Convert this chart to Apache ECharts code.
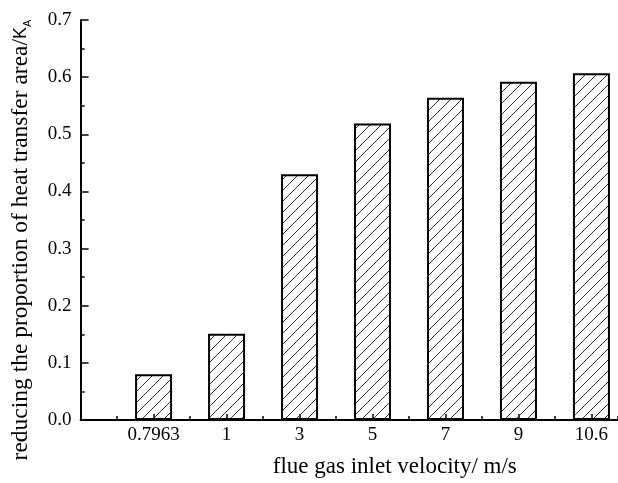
<!DOCTYPE html>
<html>
<head>
<meta charset="utf-8">
<script src="https://cdn.jsdelivr.net/npm/echarts@6/dist/echarts.min.js"></script>
<style>
  html, body { margin: 0; padding: 0; background: #fff; }
  #chart { width: 618px; height: 483px; }
</style>
</head>
<body>
<div id="chart"></div>
<script>
'use strict';

// 烟气入口速度 (x 轴类别) 和换热面积减少比例
var velocities = ['0.7963', '1', '3', '5', '7', '9', '10.6'];
var reduceRatio = [0.080, 0.151, 0.430, 0.519, 0.564, 0.592, 0.607];
var yTicks = [0, 0.1, 0.2, 0.3, 0.4, 0.5, 0.6, 0.7];

var serif = "'Liberation Serif', 'Times New Roman', serif";
var sans = "'Liberation Sans', Arial, sans-serif";
var xMax = 7.364; // 原图右侧被裁掉

// 斜线填充
function hatchPattern() {
  var size = 11;
  var c = document.createElement('canvas');
  c.width = size;
  c.height = size;
  var ctx = c.getContext('2d');
  ctx.strokeStyle = '#333';
  ctx.lineWidth = 1;
  ctx.beginPath();
  ctx.moveTo(-1, size + 1);
  ctx.lineTo(size + 1, -1);
  ctx.moveTo(-1, 1);
  ctx.lineTo(1, -1);
  ctx.moveTo(size - 1, size + 1);
  ctx.lineTo(size + 1, size - 1);
  ctx.stroke();
  return c;
}

var chart = echarts.init(document.getElementById('chart'), null, { renderer: 'canvas' });

var barData = [];
for (var i = 0; i < velocities.length; i++) {
  barData.push([i + 1, reduceRatio[i]]);
}

var option = {
  animation: false,
  backgroundColor: '#fff',
  grid: {
    left: 80.6,
    right: 0,
    top: 20,
    bottom: 57.5
  },
  xAxis: [
    {
      type: 'value',
      min: 0,
      max: xMax,
      interval: 1,
      name: 'flue gas inlet velocity/ m/s',
      nameLocation: 'middle',
      nameGap: 35,
      nameTextStyle: {
        fontFamily: serif,
        fontSize: 23,
        color: '#000',
        padding: [0, 0, 0, 91]
      },
      axisLine: { lineStyle: { color: '#000', width: 2 } },
      axisTick: { inside: true, length: 6, lineStyle: { color: '#000', width: 1.5 } },
      axisLabel: {
        fontFamily: serif,
        fontSize: 19,
        color: '#000',
        margin: 6,
        showMaxLabel: false,
        formatter: function(v) {
          var k = Math.round(v);
          if (Math.abs(v - k) < 1e-6 && k >= 1 && k <= velocities.length) {
            return velocities[k - 1];
          }
          return '';
        }
      },
      splitLine: { show: false }
    },
    {
      // 次刻度
      type: 'value',
      position: 'bottom',
      min: 0,
      max: xMax,
      interval: 0.5,
      axisLine: { show: false },
      axisTick: { show: true, inside: true, length: 4, lineStyle: { color: '#000', width: 1.5 } },
      axisLabel: { show: false },
      splitLine: { show: false }
    }
  ],
  yAxis: {
    type: 'value',
    min: yTicks[0],
    max: yTicks[yTicks.length - 1],
    interval: 0.1,
    name: '{t|reducing the proportion of heat transfer area/}{k|K}{s|A}',
    nameLocation: 'middle',
    nameGap: 47,
    nameTextStyle: {
      padding: [0, 40, 0, 0],
      rich: {
        t: { fontFamily: serif, fontSize: 23.5, color: '#000', lineHeight: 26 },
        k: { fontFamily: sans, fontSize: 18, color: '#000', lineHeight: 26 },
        s: { fontFamily: sans, fontSize: 11, color: '#000', lineHeight: 14, verticalAlign: 'bottom' }
      }
    },
    axisLine: { show: true, lineStyle: { color: '#000', width: 2 } },
    axisTick: { show: true, inside: true, length: 8, lineStyle: { color: '#000', width: 1.5 } },
    minorTick: { show: true, splitNumber: 2, length: 4, lineStyle: { color: '#000', width: 1.5 } },
    axisLabel: {
      fontFamily: serif,
      fontSize: 19,
      color: '#000',
      margin: 9,
      formatter: function(v) { return v.toFixed(1); }
    },
    splitLine: { show: false }
  },
  series: [
    {
      type: 'bar',
      xAxisIndex: 0,
      data: barData,
      barWidth: 37,
      itemStyle: {
        color: { image: hatchPattern(), repeat: 'repeat' },
        borderColor: '#000',
        borderWidth: 2
      }
    }
  ]
};

chart.setOption(option);
window.onresize = chart.resize;
</script>
</body>
</html>
